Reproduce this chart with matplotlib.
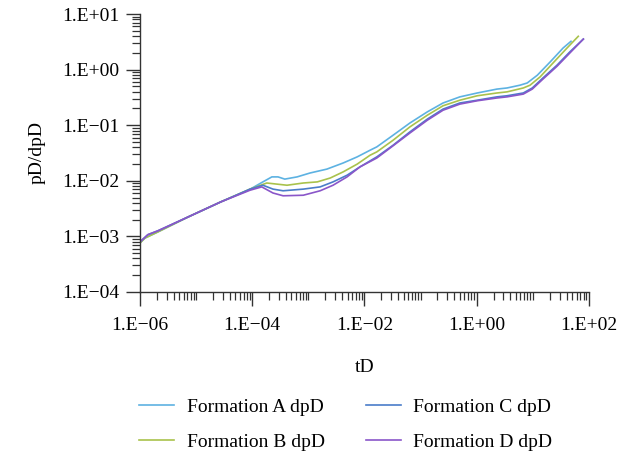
import numpy as np
import matplotlib.pyplot as plt
from matplotlib.ticker import LogLocator, FuncFormatter, NullFormatter

plt.rcParams['font.family'] = ['Liberation Serif', 'DejaVu Serif']

# ── Data (log10 of tD and pD/dpD) ─────────────────────────────────────────────
logt_A = [-6.00, -5.91, -5.68, -5.14, -4.56, -4.07, -3.81, -3.65, -3.54, -3.42, -3.20,
          -2.97, -2.67, -2.38, -2.13, -1.90, -1.78, -1.49, -1.19, -0.88, -0.60, -0.30,
          0.01, 0.36, 0.54, 0.77, 0.90, 1.08, 1.31, 1.54, 1.68]
logp_A = [-3.12, -3.03, -2.92, -2.65, -2.38, -2.17, -2.02, -1.93, -1.93, -1.97, -1.93,
          -1.86, -1.79, -1.68, -1.57, -1.45, -1.39, -1.18, -0.96, -0.76, -0.60, -0.49,
          -0.42, -0.35, -0.33, -0.28, -0.24, -0.10, 0.14, 0.39, 0.51]

logt_B = [-6.00, -5.91, -5.68, -5.14, -4.56, -4.04, -3.74, -3.56, -3.38, -3.09, -2.84,
          -2.61, -2.38, -2.13, -1.90, -1.78, -1.49, -1.19, -0.88, -0.60, -0.30, 0.01,
          0.36, 0.54, 0.83, 0.95, 1.13, 1.36, 1.61, 1.81]
logp_B = [-3.12, -3.03, -2.92, -2.65, -2.38, -2.15, -2.04, -2.06, -2.08, -2.04, -2.02,
          -1.95, -1.84, -1.70, -1.54, -1.48, -1.27, -1.03, -0.82, -0.65, -0.55, -0.47,
          -0.42, -0.40, -0.33, -0.28, -0.13, 0.12, 0.39, 0.60]

logt_C = [-6.00, -5.86, -5.68, -5.14, -4.56, -4.04, -3.81, -3.63, -3.45, -3.09, -2.79,
          -2.56, -2.31, -2.08, -1.78, -1.49, -1.19, -0.88, -0.60, -0.30, 0.01, 0.36,
          0.54, 0.83, 0.99, 1.18, 1.43, 1.66, 1.90]
logp_C = [-3.10, -2.97, -2.90, -2.65, -2.38, -2.15, -2.08, -2.15, -2.18, -2.15, -2.11,
          -2.02, -1.90, -1.75, -1.57, -1.36, -1.12, -0.89, -0.71, -0.60, -0.55, -0.49,
          -0.47, -0.42, -0.33, -0.15, 0.08, 0.32, 0.55]

logt_D = [-6.00, -5.86, -5.68, -5.14, -4.56, -4.04, -3.83, -3.63, -3.45, -3.09, -2.79,
          -2.56, -2.31, -2.08, -1.78, -1.49, -1.19, -0.88, -0.60, -0.30, 0.01, 0.36,
          0.54, 0.83, 0.99, 1.18, 1.43, 1.66, 1.90]
logp_D = [-3.10, -2.97, -2.90, -2.65, -2.38, -2.17, -2.11, -2.22, -2.27, -2.26, -2.18,
          -2.08, -1.93, -1.75, -1.59, -1.37, -1.14, -0.91, -0.73, -0.62, -0.56, -0.51,
          -0.49, -0.44, -0.35, -0.17, 0.06, 0.30, 0.55]

series = [
    ("Formation A dpD", logt_A, logp_A, "#5db2e2"),
    ("Formation B dpD", logt_B, logp_B, "#a9c24c"),
    ("Formation C dpD", logt_C, logp_C, "#4a7dc9"),
    ("Formation D dpD", logt_D, logp_D, "#8a56c9"),
]

# ── Plot ──────────────────────────────────────────────────────────────────────
fig = plt.figure(figsize=(6.18, 4.54), dpi=100)
ax = fig.add_axes([0.2265, 0.357, 0.7265, 0.612])

for name, lt, lp, col in series:
    ax.plot(10 ** np.array(lt), 10 ** np.array(lp), color=col, lw=1.2, label=name,
            solid_joinstyle="round")

ax.set_xscale("log")
ax.set_yscale("log")
ax.set_xlim(1e-6, 1e2)
ax.set_ylim(1e-4, 1e1)

def sci_label(v, pos):
    e = int(round(np.log10(v)))
    sign = "+" if e >= 0 else "\u2212"
    return f"1.E{sign}{abs(e):02d}"

ax.xaxis.set_major_locator(LogLocator(base=100))
ax.xaxis.set_minor_locator(LogLocator(base=10, subs=np.arange(1, 10), numticks=50))
ax.yaxis.set_major_locator(LogLocator(base=10, numticks=20))
ax.yaxis.set_minor_locator(LogLocator(base=10, subs=np.arange(2, 10), numticks=50))
for a in (ax.xaxis, ax.yaxis):
    a.set_major_formatter(FuncFormatter(sci_label))
    a.set_minor_formatter(NullFormatter())

ax.spines["top"].set_visible(False)
ax.spines["right"].set_visible(False)
for s in ("left", "bottom"):
    ax.spines[s].set_color("#333333")
    ax.spines[s].set_linewidth(1.0)

ax.tick_params(which="major", length=10, width=1.0, color="#333333", labelsize=14, pad=5)
ax.tick_params(axis="x", which="major", pad=8)
ax.tick_params(which="minor", length=6, width=0.9, color="#333333")

ax.set_xlabel("tD", fontsize=14, labelpad=18)
ax.set_ylabel("pD/dpD", fontsize=14, labelpad=12)

ax.legend(loc="upper center", bbox_to_anchor=(0.458, -0.355), ncol=2, frameon=False,
          fontsize=14, handlelength=1.8, handletextpad=0.65, columnspacing=2.1,
          labelspacing=0.9, borderaxespad=0)

fig.savefig("out.png", dpi=100)
